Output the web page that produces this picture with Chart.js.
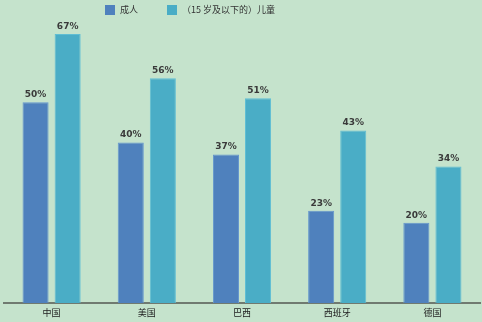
<!DOCTYPE html>
<html>
<head>
<meta charset="utf-8">
<script src="https://cdn.jsdelivr.net/npm/chart.js@4"></script>
<style>
  body { margin: 0; background: #c5e3cc; }
  #wrap { width: 482px; height: 322px; }
</style>
</head>
<body>
<div id="wrap"><canvas id="myChart"></canvas></div>
<script>
// data
const countries = ['中国', '美国', '巴西', '西班牙', '德国'];
const adults = [50, 40, 37, 23, 20];
const children = [67, 56, 51, 43, 34];
const seriesNames = ['成人', '（15 岁及以下的）儿童'];

const cjk = '"Noto Sans CJK SC", "Noto Sans", sans-serif';

// percent text above each bar
const valueLabels = {
    id: 'valueLabels',
    afterDatasetsDraw(chart) {
        const ctx = chart.ctx;
        ctx.save();
        ctx.font = 'bold 9px "DejaVu Sans", sans-serif';
        ctx.fillStyle = '#3a3a3a';
        ctx.textAlign = 'center';
        ctx.textBaseline = 'bottom';
        chart.data.datasets.forEach((ds, i) => {
            chart.getDatasetMeta(i).data.forEach((bar, j) => {
                ctx.fillText(ds.data[j] + '%', bar.x, bar.y - 3);
            });
        });
        ctx.restore();
    }
};

// legend sits left of centre in the original, so draw it by hand
const topLegend = {
    id: 'topLegend',
    afterDraw(chart) {
        const ctx = chart.ctx;
        const starts = [105, 167];
        ctx.save();
        ctx.font = '9px ' + cjk;
        ctx.textBaseline = 'middle';
        ctx.textAlign = 'left';
        chart.data.datasets.forEach((ds, i) => {
            ctx.fillStyle = ds.backgroundColor;
            ctx.fillRect(starts[i], 5, 10, 10);
            ctx.fillStyle = '#333';
            ctx.fillText(ds.label, starts[i] + 15, 10);
        });
        ctx.restore();
    }
};

const data = {
    labels: countries,
    datasets: [{
        label: seriesNames[0],
        backgroundColor: 'rgb(79, 129, 189)',
        borderColor: 'rgb(100, 150, 205)',
        borderWidth: 1,
        data: adults,
    }, {
        label: seriesNames[1],
        backgroundColor: 'rgb(74, 173, 198)',
        borderColor: 'rgb(95, 190, 212)',
        borderWidth: 1,
        data: children,
    }]
};

const config = {
    type: 'bar',
    data: data,
    plugins: [valueLabels, topLegend],
    options: {
        responsive: true,
        maintainAspectRatio: false,
        animation: false,
        categoryPercentage: 0.674,
        barPercentage: 0.8125,
        layout: { padding: { left: 4, right: 2, top: 2, bottom: 0 } },
        plugins: {
            legend: { display: false },
            tooltip: { enabled: false }
        },
        scales: {
            x: {
                grid: { display: false, drawTicks: false },
                border: { display: true, color: '#707a70', width: 2 },
                ticks: { color: '#222', padding: 4, font: { family: cjk, size: 9 } },
                afterFit(scale) { scale.height = 19; }
            },
            y: {
                display: false,
                min: 0,
                max: 75
            }
        }
    }
};

// eslint-disable-next-line
const myChart = new Chart(
    document.getElementById('myChart'),
    config
);
</script>
</body>
</html>
